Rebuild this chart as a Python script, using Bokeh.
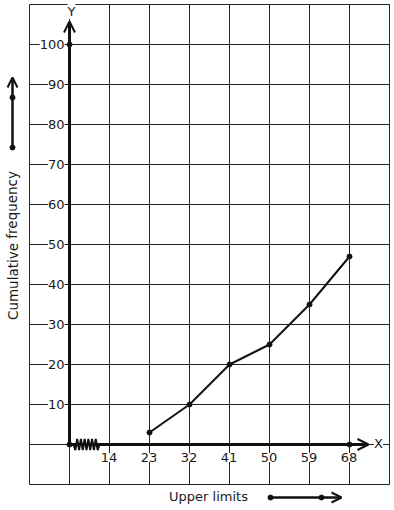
from bokeh.plotting import figure
from bokeh.models import Range1d, Arrow, OpenHead
from bokeh.core.properties import value
from bokeh.embed import file_html
from bokeh.resources import INLINE

# ---- data ----
x_tick_labels = ["14", "23", "32", "41", "50", "59", "68"]
upper_limits = [23, 32, 41, 50, 59, 68]
cum_freq = [3, 10, 20, 25, 35, 47]
y_tick_values = [10, 20, 30, 40, 50, 60, 70, 80, 90, 100]
x_title = "Upper limits"
y_title = "Cumulative frequency"

FONT = value("DejaVu Sans")
INK = "#111111"
TXT = "#1a1a1a"
GRID = "#222222"


def xpos(v):
    return 1 + x_tick_labels.index(str(v))


p = figure(width=394, height=510, output_backend="svg", toolbar_location=None,
           x_range=Range1d(-1.725, 8.125), y_range=Range1d(-16.5, 111),
           x_axis_location=None, y_axis_location=None, min_border=0,
           tools="")
p.xgrid.visible = False
p.ygrid.visible = False
p.outline_line_color = None
p.background_fill_color = "white"
p.border_fill_color = "white"

# grid box
gx = list(range(-1, 9))
gy = list(range(-10, 111, 10))
p.segment(x0=gx, y0=[-10] * len(gx), x1=gx, y1=[110] * len(gx), line_color=GRID, line_width=1)
p.segment(x0=[-1] * len(gy), y0=gy, x1=[8] * len(gy), y1=gy, line_color=GRID, line_width=1)

# axes with arrows
p.add_layout(Arrow(x_start=0, y_start=0, x_end=0, y_end=105.75, line_width=3, line_color=INK,
                   end=OpenHead(size=11, line_width=2, line_color=INK)))
p.add_layout(Arrow(x_start=0, y_start=0, x_end=7.475, y_end=0, line_width=3, line_color=INK,
                   end=OpenHead(size=11, line_width=2, line_color=INK)))

# zigzag (axis break)
n = 15
zx = [0.1 + i * (0.65 / (n - 1)) for i in range(n)]
zy = [(-1.4 if i % 2 else 1.4) if 0 < i < n - 1 else 0 for i in range(n)]
p.line(zx, zy, line_color=INK, line_width=2)

# axis dots
p.scatter([0, 0, xpos(68)], [0, 100, 0], size=5, color=INK)

# data polyline
xs = [xpos(v) for v in upper_limits]
p.line(xs, cum_freq, line_color=INK, line_width=2)
p.scatter(xs, cum_freq, size=5, color=INK)

# tick labels
p.text(x=[0] * len(y_tick_values), y=y_tick_values, text=[str(v) for v in y_tick_values],
       x_offset=-5, text_align="right", text_baseline="middle", text_font=FONT,
       text_font_size=value("13px"), text_color=TXT, background_fill_color="white")
p.text(x=[xpos(v) for v in x_tick_labels], y=[0] * len(x_tick_labels), text=x_tick_labels,
       y_offset=13, x_offset=-0.5, text_align="center", text_baseline="middle", text_font=FONT,
       text_font_size=value("13px"), text_color=TXT, background_fill_color="white")

# axis letters
p.text(x=[0.05, 7.725], y=[108.25, 0.25], text=["Y", "X"], text_align="center",
       text_baseline="middle", text_font=FONT, text_font_size=value("13px"),
       text_color=TXT, background_fill_color="white")

# titles
p.text(x=[3.475], y=[-13], text=[x_title], text_align="center", text_baseline="middle",
       text_font=FONT, text_font_size=value("13px"), text_color=TXT)
p.text(x=[-1.425], y=[49.75], text=[y_title], angle=1.5708, text_align="center",
       text_baseline="middle", text_font=FONT, text_font_size=value("13.5px"), text_color=TXT)

# direction arrows next to titles
p.add_layout(Arrow(x_start=-1.425, y_start=74.25, x_end=-1.425, y_end=91.75, line_width=2.5,
                   line_color=INK, end=OpenHead(size=10, line_width=2, line_color=INK)))
p.scatter([-1.425, -1.425], [74.25, 86.75], size=5, color=INK)
p.add_layout(Arrow(x_start=5.025, y_start=-13.25, x_end=6.8, y_end=-13.25, line_width=2.5,
                   line_color=INK, end=OpenHead(size=10, line_width=2, line_color=INK)))
p.scatter([5.025, 6.3], [-13.25, -13.25], size=5, color=INK)

open("out.html", "w").write(file_html(p, INLINE))
